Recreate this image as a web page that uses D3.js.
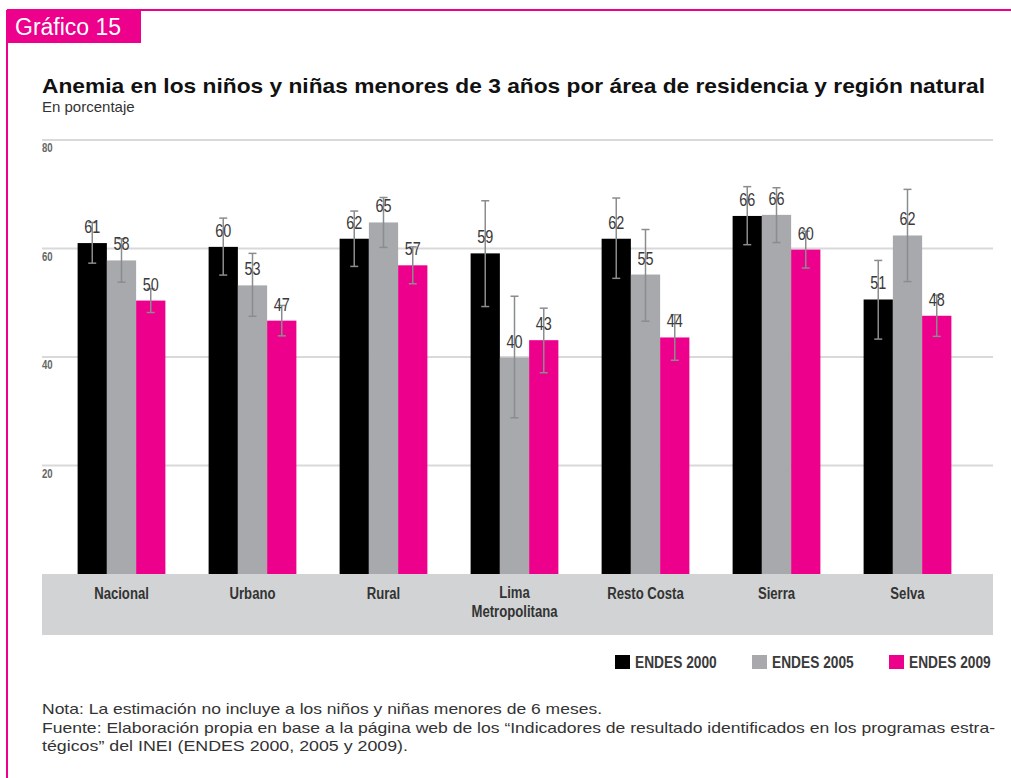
<!DOCTYPE html>
<html>
<head>
<meta charset="utf-8">
<script src="https://cdn.jsdelivr.net/npm/d3@7"></script>
<style>
  body { margin: 0; background: #fff; }
  svg { display: block; }
</style>
</head>
<body>
<script>
// Chart data
const categories = [["Nacional"], ["Urbano"], ["Rural"], ["Lima", "Metropolitana"], ["Resto Costa"], ["Sierra"], ["Selva"]];
const seriesNames = ["ENDES 2000", "ENDES 2005", "ENDES 2009"];
const values2000 = [61.0, 60.3, 61.8, 59.1, 61.8, 66.0, 50.6];
const low2000 = [57.3, 55.1, 56.7, 49.3, 54.5, 60.7, 43.3];
const high2000 = [64.8, 65.6, 66.9, 68.8, 69.3, 71.4, 57.8];
const values2005 = [57.8, 53.2, 64.8, 39.9, 55.2, 66.2, 62.4];
const low2005 = [53.8, 47.5, 60.2, 28.8, 46.6, 61.1, 53.9];
const high2005 = [61.8, 59.1, 69.4, 51.2, 63.5, 71.2, 70.9];
const values2009 = [50.4, 46.7, 56.9, 43.1, 43.6, 59.8, 47.6];
const low2009 = [48.2, 43.9, 53.5, 37.1, 39.4, 56.4, 43.8];
const high2009 = [52.6, 49.5, 60.3, 49.0, 47.8, 63.2, 51.4];
const yTicks = [20, 40, 60, 80];

const width = 1011;
const height = 778;
const pink = "#ec008c";
const colors = ["#000000", "#a7a9ac", pink];
const sans = "'Liberation Sans', Arial, sans-serif";
const squeeze = 0.8; // condensed look for chart labels

const svg = d3.select("body")
  .append("svg")
  .attr("width", width)
  .attr("height", height);

// Pink frame and header tab
svg.append("line").attr("x1", 7).attr("x2", width).attr("y1", 10).attr("y2", 10)
  .attr("stroke", pink).attr("stroke-width", 2);
svg.append("line").attr("x1", 7).attr("x2", 7).attr("y1", 10).attr("y2", height)
  .attr("stroke", pink).attr("stroke-width", 2);
svg.append("rect").attr("x", 7).attr("y", 10).attr("width", 134).attr("height", 33).attr("fill", pink);
svg.append("text").attr("x", 15).attr("y", 35)
  .attr("font-family", sans).attr("font-size", 23).attr("fill", "#fff")
  .text("Gráfico 15");

// Titles
svg.append("text").attr("x", 42).attr("y", 93)
  .attr("font-family", sans).attr("font-size", 21).attr("font-weight", "bold").attr("fill", "#111")
  .attr("textLength", 943).attr("lengthAdjust", "spacingAndGlyphs")
  .text("Anemia en los niños y niñas menores de 3 años por área de residencia y región natural");
svg.append("text").attr("x", 42).attr("y", 112)
  .attr("font-family", sans).attr("font-size", 15).attr("fill", "#333")
  .text("En porcentaje");

// Scales
const x0 = d3.scaleBand()
  .domain(d3.range(categories.length))
  .range([56, 973])
  .paddingInner(0.33)
  .paddingOuter(0.165);

const x1 = d3.scaleBand()
  .domain(d3.range(seriesNames.length))
  .range([0, x0.bandwidth()]);

const y = d3.scaleLinear().domain([0, 80]).range([574, 140]);

// Gridlines + tick labels
const grid = svg.append("g");
grid.selectAll("line").data(yTicks).enter().append("line")
  .attr("x1", 42).attr("x2", 993)
  .attr("y1", (d) => y(d)).attr("y2", (d) => y(d))
  .attr("stroke", "#d9d9d9").attr("stroke-width", 2);
grid.selectAll("text").data(yTicks).enter().append("text")
  .attr("transform", (d) => `translate(42,${y(d) + 12}) scale(${squeeze},1)`)
  .attr("font-family", sans).attr("font-size", 12).attr("font-weight", "bold").attr("fill", "#666")
  .text((d) => d);

// Category band
svg.append("rect").attr("x", 42).attr("y", y(0)).attr("width", 951).attr("height", 61)
  .attr("fill", "#d1d3d4");

const series = [
  { vals: values2000, low: low2000, high: high2000 },
  { vals: values2005, low: low2005, high: high2005 },
  { vals: values2009, low: low2009, high: high2009 },
];

const rows = [];
categories.forEach((c, i) => {
  series.forEach((s, j) => {
    rows.push({ cat: i, s: j, v: s.vals[i], lo: s.low[i], hi: s.high[i] });
  });
});

const cx = (d) => x0(d.cat) + x1(d.s) + x1.bandwidth() / 2;

// Bars
svg.append("g").selectAll("rect").data(rows).enter().append("rect")
  .attr("x", (d) => x0(d.cat) + x1(d.s))
  .attr("y", (d) => y(d.v))
  .attr("width", x1.bandwidth())
  .attr("height", (d) => y(0) - y(d.v))
  .attr("fill", (d) => colors[d.s]);

// Error bars
const err = svg.append("g").attr("stroke", "#8a8c8e").attr("stroke-width", 1.5);
err.selectAll(".whisker").data(rows).enter().append("line")
  .attr("x1", cx).attr("x2", cx)
  .attr("y1", (d) => y(d.lo)).attr("y2", (d) => y(d.hi));
err.selectAll(".capLo").data(rows).enter().append("line")
  .attr("x1", (d) => cx(d) - 4).attr("x2", (d) => cx(d) + 4)
  .attr("y1", (d) => y(d.lo)).attr("y2", (d) => y(d.lo));
err.selectAll(".capHi").data(rows).enter().append("line")
  .attr("x1", (d) => cx(d) - 4).attr("x2", (d) => cx(d) + 4)
  .attr("y1", (d) => y(d.hi)).attr("y2", (d) => y(d.hi));

// Value labels
svg.append("g").selectAll("text").data(rows).enter().append("text")
  .attr("transform", (d) => `translate(${cx(d)},${y(d.v) - 10}) scale(${squeeze},1)`)
  .attr("text-anchor", "middle")
  .attr("font-family", sans).attr("font-size", 18).attr("fill", "#3a3a3a")
  .text((d) => Math.round(d.v));

// Category labels
svg.append("g").selectAll("g").data(categories).enter().append("g")
  .attr("transform", (d, i) => `translate(${x0(i) + x0.bandwidth() / 2},${d.length > 1 ? 598 : 599}) scale(0.82,1)`)
  .each(function (d) {
    d3.select(this).selectAll("text").data(d).enter().append("text")
      .attr("y", (t, k) => k * 19)
      .attr("text-anchor", "middle")
      .attr("font-family", sans).attr("font-size", 16).attr("font-weight", "bold").attr("fill", "#333")
      .text((t) => t);
  });

// Legend
const legendX = [615, 752, 889];
const legend = svg.append("g");
seriesNames.forEach((name, i) => {
  legend.append("rect").attr("x", legendX[i]).attr("y", 655).attr("width", 15).attr("height", 14)
    .attr("fill", colors[i]);
  legend.append("text")
    .attr("transform", `translate(${legendX[i] + 20},668) scale(0.86,1)`)
    .attr("font-family", sans).attr("font-size", 16).attr("font-weight", "bold").attr("fill", "#3a3a3a")
    .text(name);
});

// Notes
const notes = [
  ["Nota: La estimación no incluye a los niños y niñas menores de 6 meses.", 560],
  ["Fuente: Elaboración propia en base a la página web de los \u201cIndicadores de resultado identificados en los programas estra-", 953],
  ["tégicos\u201d del INEI (ENDES 2000, 2005 y 2009).", 366],
];
svg.append("g").selectAll("text").data(notes).enter().append("text")
  .attr("x", 42).attr("y", (d, i) => 714 + i * 18.5)
  .attr("font-family", sans).attr("font-size", 14.5).attr("fill", "#333")
  .attr("textLength", (d) => d[1]).attr("lengthAdjust", "spacingAndGlyphs")
  .text((d) => d[0]);
</script>
</body>
</html>
